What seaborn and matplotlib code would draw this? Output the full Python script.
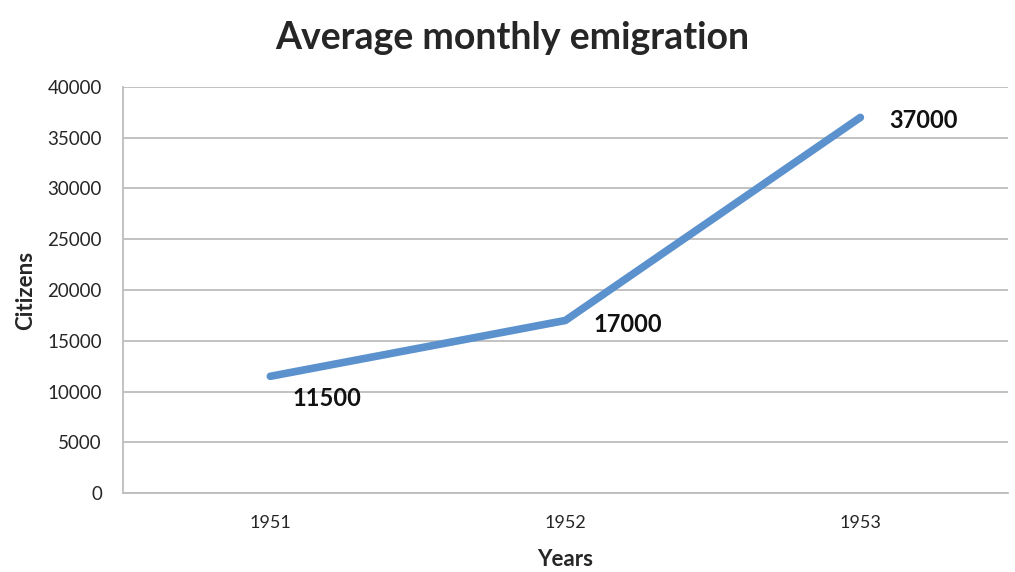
import matplotlib
matplotlib.use("Agg")
import matplotlib.pyplot as plt
import seaborn as sns
import pandas as pd
from matplotlib.ticker import FixedLocator, NullFormatter

years = ["1951", "1952", "1953"]
citizens = [11500, 17000, 37000]

sns.set_style("white")
plt.rcParams["font.family"] = ["Lato", "DejaVu Sans"]

df = pd.DataFrame({"year": years, "citizens": citizens})

fig = plt.figure(figsize=(10.15, 5.72), dpi=100)
ax = fig.add_axes([0.121, 0.138, 0.872, 0.710])

sns.lineplot(data=df, x="year", y="citizens", color="#5B92CE", linewidth=5.5,
             solid_capstyle="round", solid_joinstyle="miter", ax=ax)

# data labels
offsets = [(16, -16), (20, -3), (21, -2)]
for i, (v, off) in enumerate(zip(citizens, offsets)):
    ax.annotate(str(v), (i, v), xytext=off, textcoords="offset points",
                fontsize=17, fontweight="bold", color="#111111",
                ha="left", va="center")

ax.set_xlim(-0.5, 2.5)
ax.set_ylim(0, 40000)
ax.set_yticks(range(0, 40001, 5000))
ax.yaxis.grid(True, color="#BDBDBD", linewidth=1.3)
ax.set_axisbelow(True)

ax.xaxis.set_minor_locator(FixedLocator([-0.5, 0.5, 1.5, 2.5]))
ax.xaxis.set_minor_formatter(NullFormatter())
ax.tick_params(axis="x", which="major", length=0, pad=16, labelsize=13)
ax.tick_params(axis="x", which="minor", length=5, width=1.2, color="#BDBDBD", direction="out")
ax.tick_params(axis="y", length=5, width=1.2, color="#BDBDBD", direction="out", labelsize=13.5, pad=10)

for s in ["top", "right"]:
    ax.spines[s].set_visible(False)
for s in ["left", "bottom"]:
    ax.spines[s].set_color("#BDBDBD")
    ax.spines[s].set_linewidth(1.3)

ax.set_xlabel("Years", fontsize=16, fontweight="bold", labelpad=13)
ax.set_ylabel("Citizens", fontsize=16, fontweight="bold", labelpad=8)
fig.suptitle("Average monthly emigration", fontsize=27, fontweight="bold", x=0.505, y=0.964)

fig.savefig("out.png", dpi=100, facecolor="white")
